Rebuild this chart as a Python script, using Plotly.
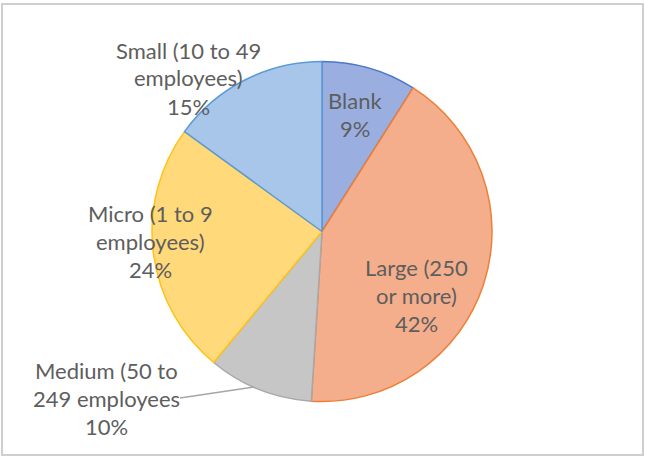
import plotly.graph_objects as go

W, H = 645, 457

categories = ["Blank", "Large (250 or more)", "Medium (50 to 249 employees", "Micro (1 to 9 employees)", "Small (10 to 49 employees)"]
values = [9, 42, 10, 24, 15]
fill_colors = ["#9AAFE0", "#F4AE8C", "#C6C6C6", "#FFD97A", "#A7C6EA"]
line_colors = ["#4A78CC", "#EE7F38", "#A8A8A8", "#FFC21A", "#5B9BD5"]

# label lines for each slice (text), shown as annotations
label_lines = {
    "Blank": ["Blank", "9%"],
    "Large (250 or more)": ["Large (250", "or more)", "42%"],
    "Medium (50 to 249 employees": ["Medium (50 to", "249 employees", "10%"],
    "Micro (1 to 9 employees)": ["Micro (1 to 9", "employees)", "24%"],
    "Small (10 to 49 employees)": ["Small (10 to 49", "employees)", "15%"],
}
# label centre positions in pixels (x, first-line y)
label_pos = {
    "Blank": (355, 100),
    "Large (250 or more)": (416, 267),
    "Medium (50 to 249 employees": (106, 370),
    "Micro (1 to 9 employees)": (150, 213),
    "Small (10 to 49 employees)": (188, 50),
}

cx, cy, r = 322, 231.5, 170

fig = go.Figure(go.Pie(
    labels=categories,
    values=values,
    sort=False,
    direction="clockwise",
    rotation=0,
    textinfo="none",
    hoverinfo="label+percent",
    marker=dict(colors=fill_colors, line=dict(color=line_colors, width=1.5)),
    domain=dict(x=[(cx - r) / W, (cx + r) / W], y=[1 - (cy + r) / H, 1 - (cy - r) / H]),
    showlegend=False,
))

font = dict(family="Lato, 'Open Sans', sans-serif", size=22, color="#5E5E5E")
annotations = []
for cat in categories:
    x0, y0 = label_pos[cat]
    for i, line in enumerate(label_lines[cat]):
        annotations.append(dict(
            x=x0 / W, y=1 - (y0 + 28 * i) / H, xref="paper", yref="paper",
            text=line, showarrow=False, font=font, xanchor="center", yanchor="middle",
        ))

shapes = [
    # outer chart frame
    dict(type="rect", xref="paper", yref="paper",
         x0=2 / W, x1=643 / W, y0=1 - 455 / H, y1=1 - 4 / H,
         line=dict(color="#CFCFCF", width=2), fillcolor="rgba(0,0,0,0)"),
    # leader line for Medium label
    dict(type="line", xref="paper", yref="paper",
         x0=180 / W, y0=1 - 398 / H, x1=254 / W, y1=1 - 387 / H,
         line=dict(color="#A6A6A6", width=1.5)),
]

fig.update_layout(
    width=W, height=H,
    margin=dict(l=0, r=0, t=0, b=0),
    paper_bgcolor="white", plot_bgcolor="white",
    annotations=annotations, shapes=shapes,
)

fig.write_html(
    "out.html",
    config={"displayModeBar": False},
    post_script="document.body.style.margin='0px';document.body.style.overflow='hidden';",
)
